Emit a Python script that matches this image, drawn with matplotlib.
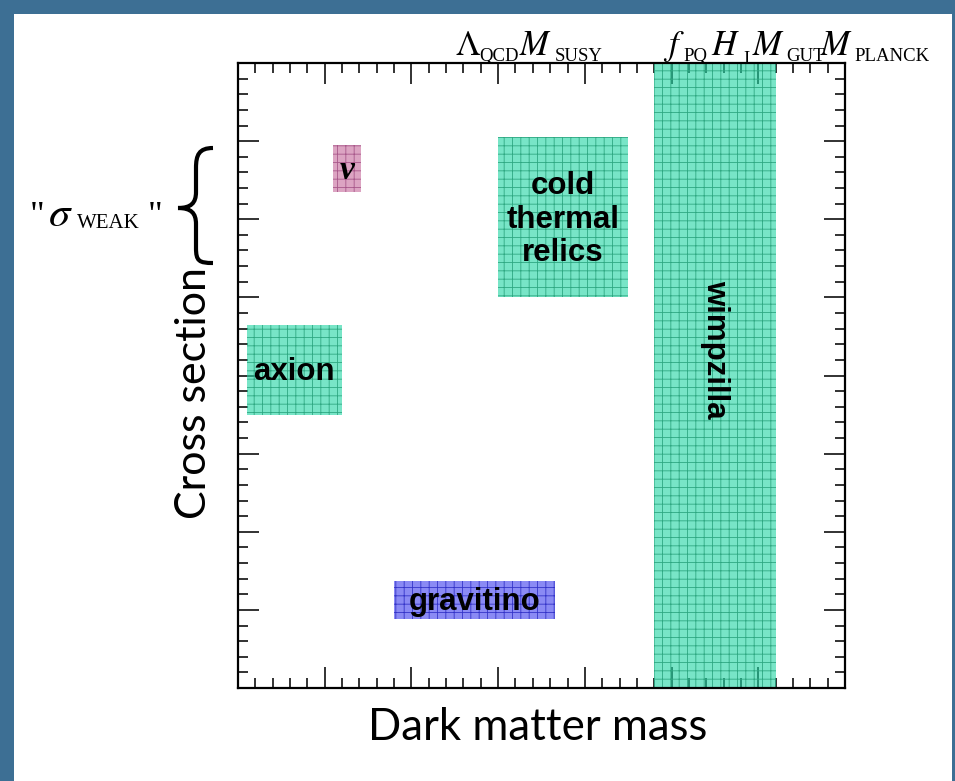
import matplotlib
matplotlib.use("Agg")
import matplotlib.pyplot as plt
from matplotlib.patches import Rectangle, PathPatch
from matplotlib.path import Path
from matplotlib.ticker import MultipleLocator

# dark matter candidates: name, mass range (x), cross section range (y)
names = ["axion", "\u03bd", "cold\nthermal\nrelics", "gravitino", "wimpzilla"]
x_lo = [0.1, 1.1, 3.0, 1.8, 4.8]
x_hi = [1.2, 1.42, 4.5, 3.65, 6.2]
y_lo = [3.5, 6.35, 5.0, 0.88, 0.0]
y_hi = [4.65, 6.95, 7.05, 1.37, 8.0]
kinds = ["teal", "pink", "teal", "blue", "teal"]

# energy scales written above the plot: symbol, subscript
scale_sym = ["$\\Lambda$", "$M$", "$f$", "$H$", "$M$", "$M$"]
scale_sub = ["QCD", "SUSY", "PQ", "I", "GUT", "PLANCK"]

fills = {"teal": "#1ed5a3", "pink": "#c5689a", "blue": "#3d3dee"}
hatches = {"teal": "#2fa882", "pink": "#a8588a", "blue": "#3434c8"}

W, H = 955, 781
plt.rcParams["mathtext.fontset"] = "stix"
plt.rcParams["hatch.linewidth"] = 0.6

fig = plt.figure(figsize=(W / 100, H / 100), dpi=100, facecolor="#3d6f94")
fig.patches.append(Rectangle((14 / W, 0), (952 - 14) / W, 1 - 14 / H,
                             transform=fig.transFigure, facecolor="white",
                             edgecolor="none", zorder=-5))


def px(x, y):
    # image pixel (from top-left) -> figure fraction
    return x / W, 1 - y / H


l, t = px(238, 63)
r, b = px(845, 688)
ax = fig.add_axes([l, b, r - l, t - b])
ax.set_xlim(0, 7)
ax.set_ylim(0, 8)
ax.set_axisbelow(True)

for x0, x1, y0, y1, k, name in zip(x_lo, x_hi, y_lo, y_hi, kinds, names):
    ax.add_patch(Rectangle((x0, y0), x1 - x0, y1 - y0, facecolor=fills[k],
                           edgecolor="none", alpha=0.6, zorder=1))
    ax.add_patch(Rectangle((x0, y0), x1 - x0, y1 - y0, facecolor="none",
                           edgecolor=hatches[k], hatch="++", lw=0, zorder=1.1))
    cx, cy = (x0 + x1) / 2, (y0 + y1) / 2
    if name == "wimpzilla":
        ax.text(cx, cy + 0.33, name, rotation=-90, ha="center", va="center",
                fontsize=22.5, fontweight="bold", family="Liberation Sans", zorder=3)
    elif name == "\u03bd":
        ax.text(cx, cy - 0.02, name, ha="center", va="center", fontsize=24,
                fontweight="bold", style="italic", family="Liberation Serif",
                zorder=3)
    else:
        ax.text(cx, cy - 0.03, name, ha="center", va="center", fontsize=22.5,
                fontweight="bold", family="Liberation Sans",
                linespacing=1.15, zorder=3)

ax.xaxis.set_major_locator(MultipleLocator(1))
ax.xaxis.set_minor_locator(MultipleLocator(0.2))
ax.yaxis.set_major_locator(MultipleLocator(1))
ax.yaxis.set_minor_locator(MultipleLocator(0.2))
ax.tick_params(which="both", direction="in", top=True, right=True,
               labelbottom=False, labelleft=False, width=1.3, color="#222222")
ax.tick_params(which="major", length=15)
ax.tick_params(which="minor", length=7.5)
for sp in ax.spines.values():
    sp.set_linewidth(1.6)

# scale labels along the top, symbol and subscript placed separately
sym_x = [455, 519, 663, 711, 752, 820]
sub_x = [479, 555, 683, 743, 786, 854]
sub_y = [61, 61, 61, 64, 61, 61]
for s, sub, xs, xb, yb in zip(scale_sym, scale_sub, sym_x, sub_x, sub_y):
    fig.text(*px(xs, 55), s, fontsize=25, ha="left", va="baseline")
    fig.text(*px(xb, yb), sub, fontsize=13.5, family="Liberation Serif",
             ha="left", va="baseline")

# sigma_weak with brace
fig.text(*px(30, 226), '"', fontsize=26, family="Liberation Serif",
         ha="left", va="baseline")
fig.text(*px(48, 226), r"$\sigma$", fontsize=31, ha="left", va="baseline")
fig.text(*px(77, 228), "WEAK", fontsize=15, family="Liberation Serif",
         ha="left", va="baseline")
fig.text(*px(148, 226), '"', fontsize=26, family="Liberation Serif",
         ha="left", va="baseline")
verts = [(213, 148), (199, 148), (196, 155), (196, 168), (196, 192),
         (196, 203), (191, 208), (178, 208), (191, 208), (196, 213),
         (196, 224), (196, 248), (196, 261), (199, 263), (213, 263)]
codes = [Path.MOVETO, Path.CURVE4, Path.CURVE4, Path.CURVE4, Path.LINETO,
         Path.CURVE4, Path.CURVE4, Path.CURVE4, Path.CURVE4, Path.CURVE4,
         Path.CURVE4, Path.LINETO, Path.CURVE4, Path.CURVE4, Path.CURVE4]
brace = Path([px(x, y) for x, y in verts], codes)
fig.patches.append(PathPatch(brace, transform=fig.transFigure, facecolor="none",
                             edgecolor="black", lw=3))

fig.text(*px(194, 393), "Cross section", rotation=90, fontsize=31,
         family="Lato", ha="center", va="center")
fig.text(*px(538, 727), "Dark matter mass", fontsize=31.5,
         family="Lato", ha="center", va="center")

fig.savefig("out.png", dpi=100, facecolor=fig.get_facecolor())
